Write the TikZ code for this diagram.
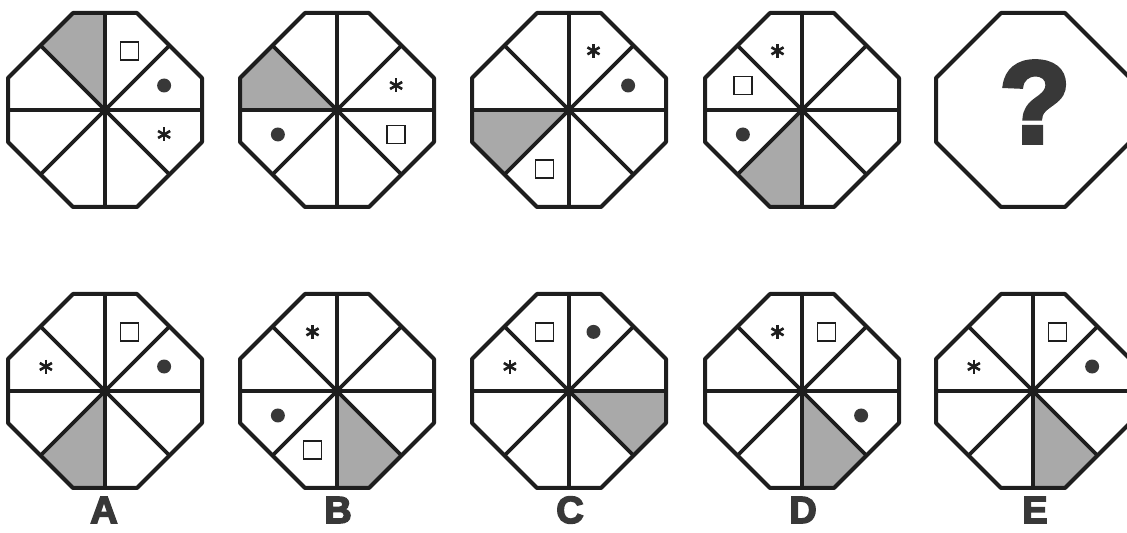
\documentclass[tikz,border=0pt]{standalone}
\usepackage{fontspec}
\newfontfamily\heavysans{Liberation Sans}[BoldFeatures={FakeBold=4}]
\definecolor{shadecol}{HTML}{A9A9A9}
\definecolor{inkcol}{HTML}{1E1E1E}
\definecolor{markcol}{HTML}{383838}
\tikzset{
  rim/.style={line width=2pt, draw=inkcol, line join=round},
  spoke/.style={line width=1.8pt, draw=inkcol},
  sqbox/.style={draw=inkcol, line width=0.7pt, minimum size=9pt, inner sep=0pt, fill=white},
  blob/.style={circle, fill=markcol, minimum size=7pt, inner sep=0pt},
  pics/astmark/.style={code={\foreach \t in {90,30,150} \draw[line width=1.3pt, inkcol] (\t:7) -- ({\t+180}:7);}},
  letter/.style={font=\heavysans\bfseries\fontsize{19}{19}\selectfont, text=markcol, inner sep=0pt},
}
% octagon: #1 shaded sector (0 = none), #2 #3 centre, #4 marks
\newcommand{\octagon}[4]{%
\begin{scope}[shift={(#2,#3)}]
  \ifnum#1>0
  \begin{scope}
    \clip (32,97) -- (97,32) -- (97,-32) -- (32,-97) -- (-32,-97) -- (-97,-32) -- (-97,32) -- (-32,97) -- cycle;
    \fill[shadecol] (0,0) -- ({(#1-1)*45}:200) -- ({#1*45}:200) -- cycle;
    \foreach \t in {0,45,...,315} \draw[spoke] (0,0) -- (\t:150);
  \end{scope}
  \fi
  \draw[rim] (32,97) -- (97,32) -- (97,-32) -- (32,-97) -- (-32,-97) -- (-97,-32) -- (-97,32) -- (-32,97) -- cycle;
  #4
\end{scope}}
\begin{document}
\begin{tikzpicture}[x=0.5pt, y=0.5pt]
\useasboundingbox (0,0) rectangle (1127,533);
% question row
\octagon{3}{105}{423}{
  \node[sqbox] (s1sq) at (67.5:64) {};
  \node[blob] (s1dot) at (22.5:64) {};
  \pic at (337.5:64) {astmark};
}
\octagon{4}{337}{423}{
  \pic at (22.5:64) {astmark};
  \node[sqbox] (s2sq) at (337.5:64) {};
  \node[blob] (s2dot) at (202.5:64) {};
}
\octagon{5}{569}{423}{
  \pic at (67.5:64) {astmark};
  \node[blob] (s3dot) at (22.5:64) {};
  \node[sqbox] (s3sq) at (247.5:64) {};
}
\octagon{6}{802}{423}{
  \pic at (112.5:64) {astmark};
  \node[sqbox] (s4sq) at (157.5:64) {};
  \node[blob] (s4dot) at (202.5:64) {};
}
\octagon{0}{1033}{423}{
  \node[font=\heavysans\bfseries\fontsize{58}{58}\selectfont, text=markcol] (qmark) at (2,8) {?};
}
% answer row
\octagon{6}{105}{142}{
  \node[sqbox] (asq) at (67.5:64) {};
  \node[blob] (adot) at (22.5:64) {};
  \pic at (157.5:64) {astmark};
}
\octagon{7}{337}{142}{
  \pic at (112.5:64) {astmark};
  \node[blob] (bdot) at (202.5:64) {};
  \node[sqbox] (bsq) at (247.5:64) {};
}
\octagon{8}{569}{142}{
  \node[sqbox] (csq) at (112.5:64) {};
  \node[blob] (cdot) at (67.5:64) {};
  \pic at (157.5:64) {astmark};
}
\octagon{7}{802}{142}{
  \pic at (112.5:64) {astmark};
  \node[sqbox] (dsq) at (67.5:64) {};
  \node[blob] (ddot) at (337.5:64) {};
}
\octagon{7}{1033}{142}{
  \node[sqbox] (esq) at (67.5:64) {};
  \node[blob] (edot) at (22.5:64) {};
  \pic at (157.5:64) {astmark};
}
% labels
\node[letter] (labA) at (104,23) {A};
\node[letter] (labB) at (338,23) {B};
\node[letter] (labC) at (570,23) {C};
\node[letter] (labD) at (803,23) {D};
\node[letter] (labE) at (1035,23) {E};
\end{tikzpicture}
\end{document}
